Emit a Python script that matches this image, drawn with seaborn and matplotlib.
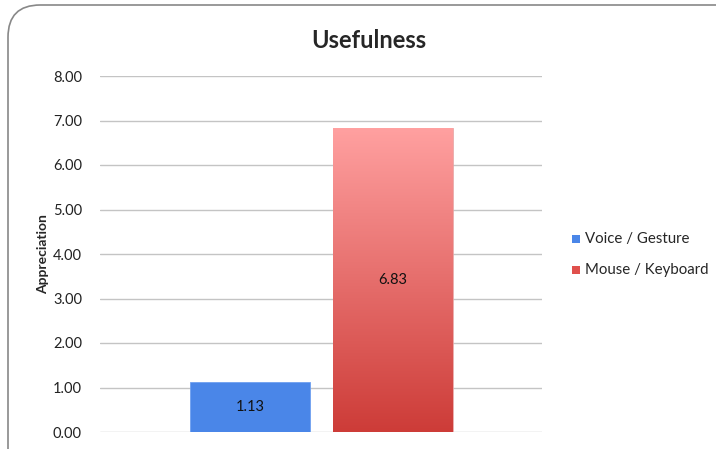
import numpy as np
import pandas as pd
import matplotlib
matplotlib.use("Agg")
import matplotlib.pyplot as plt
import seaborn as sns
from matplotlib.patches import FancyBboxPatch, Rectangle
from matplotlib.colors import LinearSegmentedColormap

series = ["Voice / Gesture", "Mouse / Keyboard"]
values = [1.13, 6.83]
labels = ["1.13", "6.83"]
yticks = [0, 1, 2, 3, 4, 5, 6, 7, 8]

sns.set_theme(style="white")
plt.rcParams['font.family'] = ['Lato', 'DejaVu Sans']

fig = plt.figure(figsize=(7.16, 4.49), dpi=100)
ax = fig.add_axes([100/716, 17/449, 442/716, 356/449])

df = pd.DataFrame({"series": series, "value": values})
sns.barplot(data=df, x="series", y="value", hue="series",
            palette=["#4A86E8", "#E0504C"], width=120/143, ax=ax,
            legend=False, saturation=1)

ax.set_xlim(-150/143, 1 + 149/143)
ax.set_ylim(0, 8)
ax.set_yticks(yticks)
ax.set_yticklabels([f"{v:.2f}" for v in yticks], fontsize=10.5, color="#222222")
ax.tick_params(axis='y', length=0, pad=13)
ax.set_xticks([])
ax.set_xlabel("")
ax.set_ylabel("Appreciation", fontsize=10, fontweight="bold", labelpad=3)
for s in ax.spines.values():
    s.set_visible(False)
ax.yaxis.grid(True, color="#C4C4C4", linewidth=1)
ax.set_axisbelow(True)

# gradient on red bar
patches = ax.patches
red = patches[1]
blue = patches[0]
blue.set_edgecolor("#6FA0F0")
blue.set_linewidth(0.6)
cmap = LinearSegmentedColormap.from_list("g", ["#CD3C38", "#FFA0A0"])
bx, by = red.get_x(), red.get_y()
bw, bh = red.get_width(), red.get_height()
grad = np.linspace(0, 1, 256).reshape(-1, 1)
im = ax.imshow(grad, cmap=cmap, aspect='auto', origin='lower',
               extent=[bx, bx + bw, by, by + bh], zorder=red.get_zorder())
im.set_clip_path(red)
red.set_facecolor("none")
red.set_edgecolor("#E8A0A0")
red.set_linewidth(0.6)
ax.set_xlim(-150/143, 1 + 149/143)
ax.set_ylim(0, 8)

for i, (v, t) in enumerate(zip(values, labels)):
    ax.text(i, v / 2, t, ha="center", va="center", fontsize=10.5, color="#111111", zorder=5)

fig.text(369/716, 1 - 40/449, "Usefulness", ha="center", va="center",
         fontsize=17, fontweight="bold")

# legend
lx = 576
for yy, col, name in [(239, "#4A86E8", series[0]), (270, "#E0504C", series[1])]:
    fig.patches.append(Rectangle(((lx - 4) / 716, 1 - (yy + 4) / 449), 8/716, 8/449,
                                 transform=fig.transFigure, facecolor=col, edgecolor="none"))
    fig.text((lx + 9) / 716, 1 - yy / 449, name, ha="left", va="center", fontsize=10.8)

# rounded border
border = FancyBboxPatch((8/716, -0.2), 1.2, (449 - 5) / 449 + 0.2 - 0.0,
                        boxstyle="round,pad=0,rounding_size=0.045",
                        transform=fig.transFigure, facecolor="none",
                        edgecolor="#888888", linewidth=1.2, mutation_aspect=716/449)
fig.patches.append(border)

fig.savefig("out.png", dpi=100)
